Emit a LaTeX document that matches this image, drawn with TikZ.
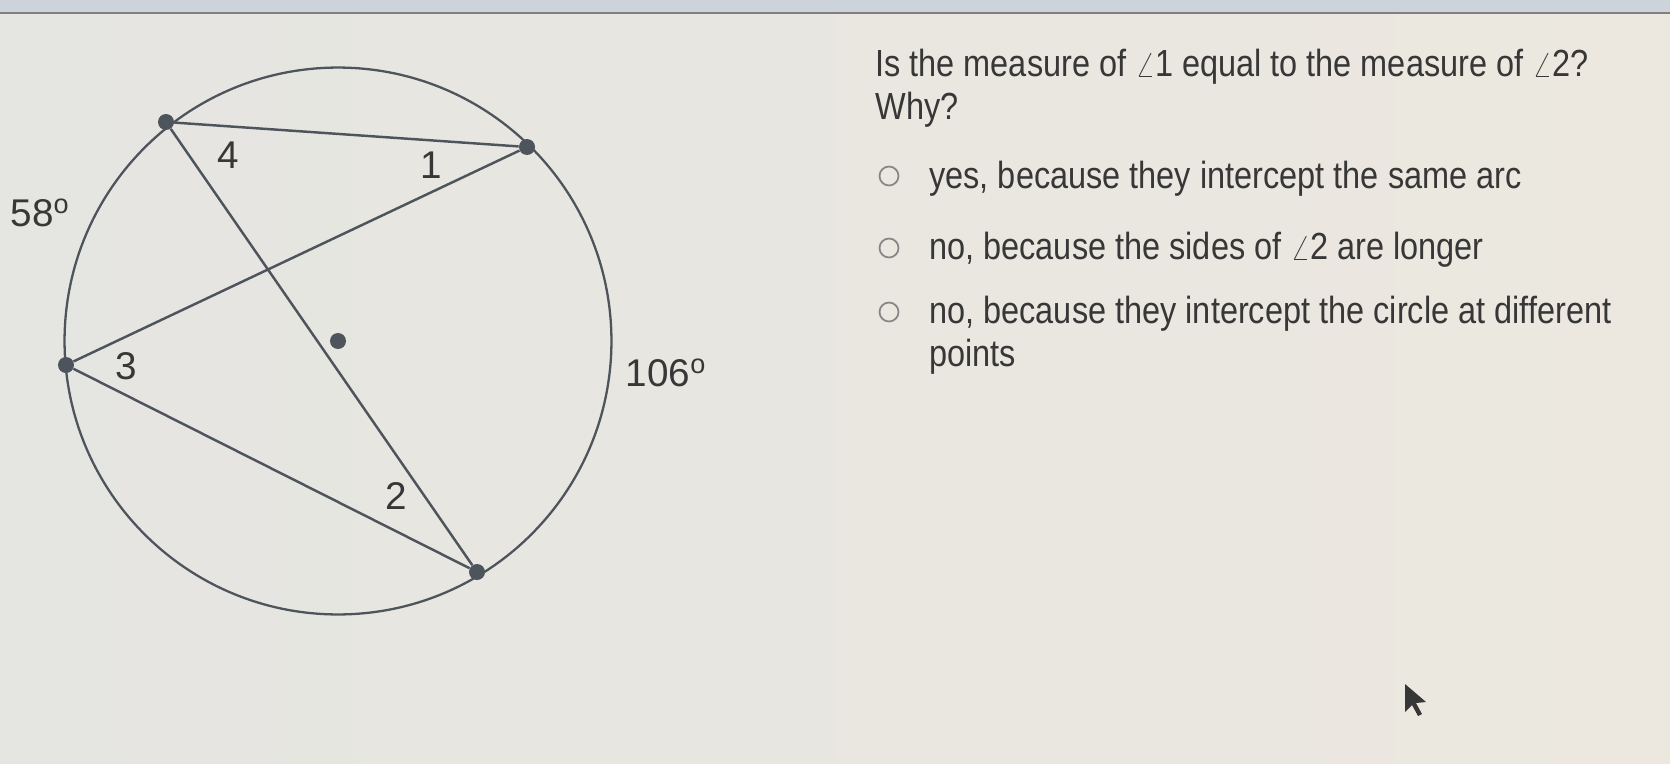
\documentclass[tikz,border=0pt]{standalone}
\usepackage{fontspec}
\setmainfont{Liberation Sans}[FakeStretch=0.86]
\newfontfamily\figfont{Liberation Sans}
\usepackage{tikz}
\usetikzlibrary{arrows.meta}
\usetikzlibrary{positioning}
\definecolor{paper}{RGB}{229,229,225}
\definecolor{paperwarm}{RGB}{236,232,224}
\definecolor{barblue}{RGB}{204,211,219}
\definecolor{ink}{RGB}{78,84,92}
\definecolor{txt}{RGB}{55,55,55}

\begin{document}
\begin{tikzpicture}[x=0.02cm, y=-0.02cm,
	qtext/.style={text=txt, inner sep=0pt, font=\fontsize{21.5}{25}\selectfont},
	figtext/.style={text=txt, inner sep=0pt, font=\figfont\fontsize{22}{26}\selectfont},
	radio/.style={circle, draw=txt!60, line width=1pt, minimum size=0.38cm, inner sep=0pt}]
	% screen background
	\useasboundingbox[left color=paper, right color=paperwarm] (0,0) rectangle (1670,764);
	\fill[barblue] (0,0) rectangle (1670,12);
	\draw[gray, line width=1.2pt] (0,13) -- (1670,13);

	\begin{scope}[every node/.style={circle, fill=ink, inner sep=0pt, minimum size=0.32cm}]
		\node (o) at (338,341) {};
		\node (a) at (166,122) {};
		\node (b) at (527,147) {};
		\node (c) at (66,365) {};
		\node (d) at (477,572) {};
	\end{scope}
	\draw[ink, line width=1.3pt] (o.center) circle (5.47cm);

	\begin{scope}[every edge/.style={draw=ink, line width=1.4pt}]
		\path (a) edge (b);
		\path (a) edge (d);
		\path (b) edge (c);
		\path (c) edge (d);
	\end{scope}

	% angle and arc labels
	\node[figtext] (n4) at (228,155) {4};
	\node[figtext] (n1) at (431,165) {1};
	\node[figtext] (n3) at (126,366) {3};
	\node[figtext] (n2) at (396,496) {2};
	\node[figtext] (arcl) at (40,213) {58\textsuperscript{o}};
	\node[figtext] (arcr) at (666,373) {106\textsuperscript{o}};

	% question
	\node[qtext, anchor=west] (q) at (875,67) {Is the measure of $\angle$1 equal to the measure of $\angle$2?};
	\node[qtext, anchor=west] (why) at (875,110) {Why?};
	\node[radio] (r1) at (889,176) {};
	\node[radio] (r2) at (889,248) {};
	\node[radio] (r3) at (889,312) {};
	\node[qtext, anchor=west] (t1) at (929,179) {yes, because they intercept the same arc};
	\node[qtext, anchor=west] (t2) at (929,250) {no, because the sides of $\angle$2 are longer};
	\node[qtext, anchor=west] (t3) at (929,314) {no, because they intercept the circle at different};
	\node[qtext, anchor=west] (t3b) at (929,357) {points};

	% mouse pointer
	\fill[txt] (1405,684) -- (1405,712) -- (1412,705) -- (1418,716) -- (1422,714) -- (1416,703) -- (1426,702) -- cycle;
\end{tikzpicture}
\end{document}
